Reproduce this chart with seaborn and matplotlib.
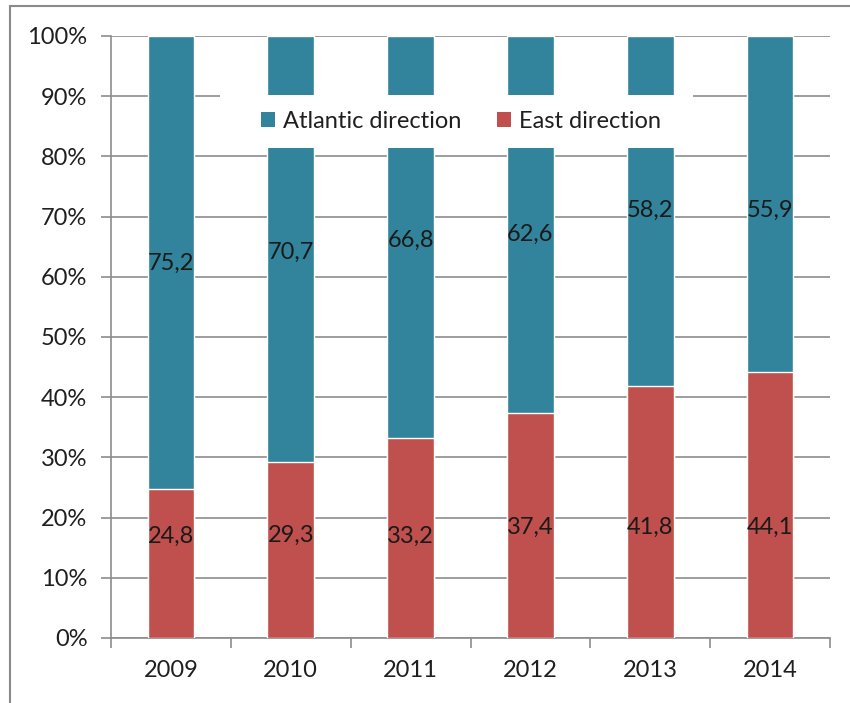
import matplotlib
matplotlib.use("Agg")
import matplotlib.pyplot as plt
import seaborn as sns
import pandas as pd
from matplotlib.lines import Line2D
from matplotlib.patches import Rectangle, Patch
from matplotlib.ticker import FuncFormatter, FixedLocator

years = ["2009", "2010", "2011", "2012", "2013", "2014"]
atlantic = [75.2, 70.7, 66.8, 62.6, 58.2, 55.9]
east = [24.8, 29.3, 33.2, 37.4, 41.8, 44.1]
atlantic_labels = ["75,2", "70,7", "66,8", "62,6", "58,2", "55,9"]
east_labels = ["24,8", "29,3", "33,2", "37,4", "41,8", "44,1"]

# label heights as placed by hand in the original
atlantic_label_y = [62.3, 64.0, 66.1, 67.0, 71.0, 71.0]
east_label_y = [16.8, 17.1, 16.8, 18.3, 18.3, 18.3]

teal = "#31849B"
red = "#C0504D"
grid_gray = "#8C8C8C"
fs = 17


def main():
    sns.set_style("white")
    plt.rcParams["font.family"] = ["Lato", "DejaVu Sans"]

    df = pd.DataFrame(
        {
            "year": years,
            "east": east,
            "total": [a + e for a, e in zip(atlantic, east)],
        }
    )

    fig = plt.figure(figsize=(8.5, 7.03), dpi=100)
    ax = fig.add_axes([0.1306, 0.0925, 0.8459, 0.8563])

    # stacked: full height in teal, east part on top in red
    sns.barplot(data=df, x="year", y="total", color=teal, width=0.39,
                saturation=1, ax=ax, zorder=2)
    sns.barplot(data=df, x="year", y="east", color=red, width=0.39,
                saturation=1, ax=ax, zorder=3)

    ax.set_xlim(-0.5, len(years) - 0.5)
    ax.set_ylim(0, 100)
    ax.set_xlabel("")
    ax.set_ylabel("")

    ax.yaxis.set_major_locator(FixedLocator(range(0, 101, 10)))
    ax.yaxis.set_major_formatter(FuncFormatter(lambda v, p: f"{int(v)}%"))
    ax.grid(True, axis="y", color=grid_gray, linewidth=1.2, zorder=0)
    ax.set_axisbelow(True)

    for side in ["top", "right"]:
        ax.spines[side].set_visible(False)
    for side in ["left", "bottom"]:
        ax.spines[side].set_color(grid_gray)
        ax.spines[side].set_linewidth(1.2)

    ax.tick_params(axis="y", which="major", left=True, length=7,
                   width=1.2, color=grid_gray, labelsize=fs,
                   labelcolor="#1f1f1f", pad=10)
    ax.tick_params(axis="x", which="major", bottom=False, labelsize=fs,
                   labelcolor="#1f1f1f", pad=12)
    # tick marks between categories
    ax.set_xticks([i - 0.5 for i in range(len(years) + 1)], minor=True)
    ax.tick_params(axis="x", which="minor", bottom=True, length=7,
                   width=1.2, color=grid_gray)

    for i in range(len(years)):
        ax.text(i, atlantic_label_y[i], atlantic_labels[i], ha="center",
                va="center", fontsize=fs, color="#1a1a1a", zorder=5)
        ax.text(i, east_label_y[i], east_labels[i], ha="center",
                va="center", fontsize=fs, color="#1a1a1a", zorder=5)

    # white legend block covering the bars
    ax.add_patch(Rectangle((0.152, 0.814), 0.657, 0.088,
                           transform=ax.transAxes, facecolor="white",
                           edgecolor="none", zorder=6, clip_on=False))
    handles = [Patch(facecolor=teal, edgecolor="none"),
               Patch(facecolor=red, edgecolor="none")]
    leg = ax.legend(handles, ["Atlantic direction", "East direction"],
                    ncol=2, loc="center", bbox_to_anchor=(0.487, 0.858),
                    frameon=False, fontsize=fs, handlelength=0.6,
                    handleheight=0.6, handletextpad=0.35, columnspacing=1.5,
                    labelcolor="#1f1f1f")
    leg.set_zorder(7)

    # outer frame (top and left visible)
    fig.add_artist(Line2D([10 / 850, 1.0], [1 - 6 / 703, 1 - 6 / 703],
                          transform=fig.transFigure, color="#8a8a8a",
                          linewidth=1.5))
    fig.add_artist(Line2D([10 / 850, 10 / 850], [0.0, 1 - 6 / 703],
                          transform=fig.transFigure, color="#8a8a8a",
                          linewidth=1.5))

    fig.savefig("out.png", dpi=100)
    plt.close(fig)


if __name__ == "__main__":
    main()
